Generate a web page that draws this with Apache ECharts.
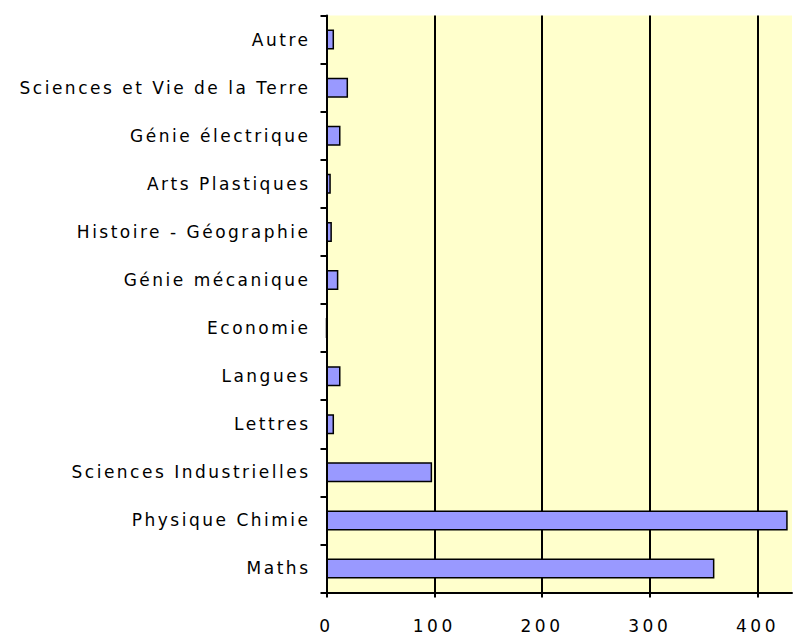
<!DOCTYPE html>
<html><head><meta charset="utf-8">
<script src="https://cdn.jsdelivr.net/npm/echarts@6/dist/echarts.min.js"></script>
<style>html,body{margin:0;padding:0;background:#fff}#c{width:793px;height:637px}</style>
</head><body><div id="c"></div>
<script>
const categories = ["Maths","Physique Chimie","Sciences Industrielles","Lettres","Langues","Economie","Génie mécanique","Histoire - Géographie","Arts Plastiques","Génie électrique","Sciences et Vie de la Terre","Autre"];
const values = [360, 428, 98, 7, 13, 0, 11, 5, 4, 13, 20, 7];
const xTicks = [0, 100, 200, 300, 400];

const chart = echarts.init(document.getElementById('c'), null, {renderer: 'svg'});
function spaceText() {
  document.querySelectorAll('#c text').forEach(t => {
    const s = (t.textContent || '').trim();
    t.style.letterSpacing = /^\d+$/.test(s) ? '3.5px' : '2.5px';
  });
}
chart.on('finished', spaceText);
chart.setOption({
  animation: false,
  grid: {left: 326.5, top: 15.5, right: 1, bottom: 44.5, show: true, backgroundColor: '#FFFFCC', borderWidth: 0},
  xAxis: {
    type: 'value', min: 0, max: 432, interval: 100,
    axisLine: {show: true, lineStyle: {color: '#000', width: 2}},
    axisTick: {show: true, length: 5, lineStyle: {color: '#000', width: 2}},
    axisLabel: {color: '#000', fontFamily: 'DejaVu Sans', fontSize: 17, margin: 25,
      formatter: v => xTicks.includes(v) ? String(v) : '', showMaxLabel: false},
    splitLine: {show: true, showMinLine: false, showMaxLine: false, lineStyle: {color: '#000', width: 2}}
  },
  yAxis: {
    type: 'category', data: categories,
    axisLine: {show: true, lineStyle: {color: '#000', width: 2}},
    axisTick: {show: true, length: 6, lineStyle: {color: '#000', width: 2}},
    axisLabel: {color: '#000', fontFamily: 'DejaVu Sans', fontSize: 17, margin: 16},
    splitLine: {show: false}
  },
  series: [{
    type: 'bar', data: values, barWidth: 20,
    itemStyle: {color: '#9999FF', borderColor: '#000', borderWidth: 1.5}
  }]
});
spaceText();
setTimeout(spaceText, 50);
</script></body></html>
